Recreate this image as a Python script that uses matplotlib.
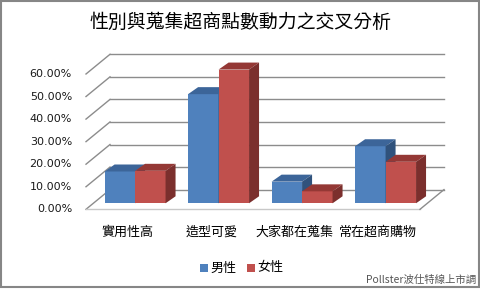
import numpy as np
import matplotlib.pyplot as plt
from matplotlib.patches import Polygon, Rectangle

plt.rcParams['font.family'] = ['Noto Sans CJK TC', 'DejaVu Sans']

# data
categories = ['實用性高', '造型可愛', '大家都在蒐集', '常在超商購物']
male = [14.1, 48.4, 9.6, 25.3]
female = [14.4, 59.3, 5.3, 18.4]
series_names = ['男性', '女性']
yticks = [0, 10, 20, 30, 40, 50, 60]

# colours (front, top, side)
blue = ('#4F81BD', '#3C6599', '#30527C')
red = ('#C0504D', '#943835', '#7B2F2D')
grid_c = '#8C8C8C'

fig = plt.figure(figsize=(4.81, 2.89), dpi=100)
ax = fig.add_axes([86 / 481, 1 - 209.3 / 289, 334 / 481, 135.3 / 289])
ax.set_xlim(-0.5, 3.5)
ax.set_ylim(0, 60)
ax.axis('off')

# depth of the "3D" box (in data units)
DX = 24 / 83.5
DY = 19.7 / 2.255
# bars sit a bit inside the box
f = 0.305
bdx, bdy = 10 / 83.5, 7 / 2.255
w = 0.365

# walls / gridlines
for v in yticks:
    ax.plot([-0.5 + DX, 3.5 + DX], [v + DY, v + DY], color=grid_c, lw=1, clip_on=False)
    ax.plot([-0.5, -0.5 + DX], [v, v + DY], color=grid_c, lw=1, clip_on=False)
    ax.text(-0.5 - 14 / 83.5, v, '%.2f%%' % v, ha='right', va='center',
            fontsize=8, color='#1a1a1a', family=['DejaVu Sans'])
ax.plot([-0.5, 3.5], [0, 0], color='#c8c8c8', lw=1, clip_on=False)
ax.plot([3.5, 3.5 + DX], [0, DY], color=grid_c, lw=1, clip_on=False)

x = np.arange(len(categories))


def draw_bars(xs, vals, cols):
    left = xs + f * DX
    base = f * DY
    ax.bar(left, vals, width=w, bottom=base, align='edge', color=cols[0],
           edgecolor='none', clip_on=False, zorder=3)
    for l, v in zip(left, vals):
        top = base + v
        ax.add_patch(Polygon([(l, top), (l + w, top), (l + w + bdx, top + bdy),
                              (l + bdx, top + bdy)], closed=True,
                             facecolor=cols[1], edgecolor='none', clip_on=False, zorder=3))
        ax.add_patch(Polygon([(l + w, base), (l + w + bdx, base + bdy),
                              (l + w + bdx, top + bdy), (l + w, top)], closed=True,
                             facecolor=cols[2], edgecolor='none', clip_on=False, zorder=3))


draw_bars(x - w, male, blue)
draw_bars(x, female, red)

for i, c in enumerate(categories):
    ax.text(i, -10.2, c, ha='center', va='center', fontsize=9.4, color='black')

fig.text(0.5, 1 - 22 / 289, '性別與蒐集超商點數動力之交叉分析', ha='center', va='center',
         fontsize=13.6, color='black')

# legend
ly = 1 - 268 / 289
for xs, name, col in [(200, series_names[0], blue[0]), (247, series_names[1], red[0])]:
    fig.patches.append(Rectangle((xs / 481, ly - 4 / 289), 8 / 481, 8 / 289,
                                 transform=fig.transFigure, facecolor=col, edgecolor='none'))
    fig.text((xs + 10) / 481, ly, name, ha='left', va='center', fontsize=9.4, color='black')

fig.text(476 / 481, 1 - 280 / 289, 'Pollster波仕特線上市調', ha='right', va='center',
         fontsize=7.5, color='#555555', family=['Noto Sans CJK TC', 'DejaVu Sans'])

fig.patches.append(Rectangle((0.5 / 481, 2.5 / 289), 479 / 481, 285.5 / 289,
                             transform=fig.transFigure, facecolor='none',
                             edgecolor='#868686', lw=1.5))

fig.savefig('out.png', dpi=100)
